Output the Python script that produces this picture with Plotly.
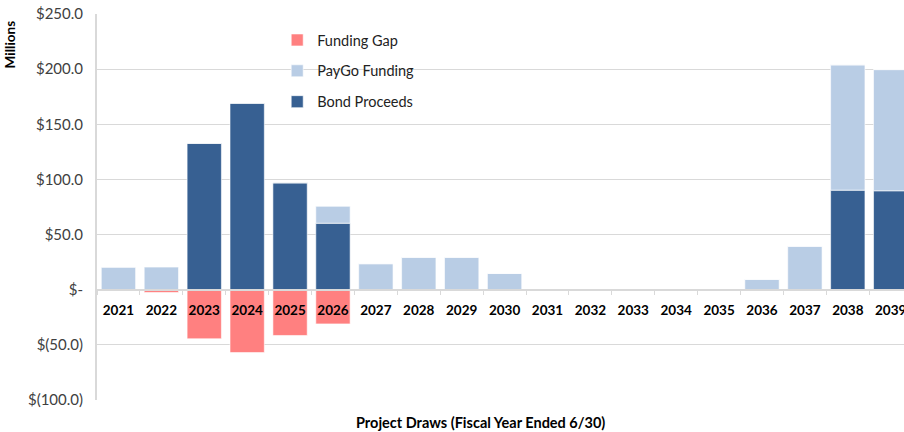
import plotly.graph_objects as go

years = [str(y) for y in range(2021, 2040)]
bond_proceeds = [0, 0, 132.7, 169.1, 96.9, 60.3, 0, 0, 0, 0, 0, 0, 0, 0, 0, 0, 0, 90.3, 89.7]
paygo_funding = [20.5, 20.5, 0, 0, 0, 15.3, 23.6, 29.4, 29.4, 14.8, 0, 0, 0, 0, 0, 9.4, 39.4, 113.6, 109.9]
funding_gap = [0, -2.5, -44.5, -57.0, -41.5, -31.0, 0, 0, 0, 0, 0, 0, 0, 0, 0, 0, 0, 0, 0]

y_ticks = [250, 200, 150, 100, 50, 0, -50, -100]
y_labels = ['$250.0', '$200.0', '$150.0', '$100.0', '$50.0', '$-', '$(50.0)', '$(100.0)']

colors = {'bond': '#376092', 'paygo': '#b9cde5', 'gap': '#ff8080'}
font = 'Lato, Open Sans, sans-serif'

fig = go.Figure()
fig.add_trace(go.Bar(x=years, y=bond_proceeds, name='Bond Proceeds', legendgroup='a', legendrank=3,
                     marker=dict(color=colors['bond'], line=dict(color='white', width=0.6))))
fig.add_trace(go.Bar(x=years, y=paygo_funding, name='PayGo Funding', legendgroup='b', legendrank=2,
                     marker=dict(color=colors['paygo'], line=dict(color='white', width=0.6))))
fig.add_trace(go.Bar(x=years, y=funding_gap, name='Funding Gap', legendgroup='c', legendrank=1,
                     marker=dict(color=colors['gap'], line=dict(color='white', width=0.6))))

ymin, ymax = -100, 250
fig.update_layout(
    width=904, height=432,
    barmode='relative', bargap=0.2,
    plot_bgcolor='white', paper_bgcolor='white',
    margin=dict(l=97, r=0, t=14, b=32, autoexpand=False),
    font=dict(family=font, size=13, color='#404040'),
    showlegend=True,
    legend=dict(x=0.2233, y=0.974, xanchor='left', yanchor='top', traceorder='grouped',
                tracegroupgap=9, bgcolor='rgba(0,0,0,0)', font=dict(size=14.5, color='#222222'),
                itemwidth=30),
    # original chart is cropped on the right, through the last bar
    xaxis=dict(type='category', range=[-0.5, 18.31], anchor='free',
               position=(0 - ymin) / (ymax - ymin),
               showline=True, linecolor='#d9d9d9', linewidth=2,
               ticks='outside', tickson='boundaries', ticklen=4, tickcolor='#d9d9d9',
               tickfont=dict(family=font, size=13.5, color='black', weight='bold'),
               ticklabelstandoff=8, ticklabeloverflow='allow', showgrid=False),
    yaxis=dict(range=[ymin, ymax], tickvals=y_ticks, ticktext=y_labels,
               showgrid=True, gridcolor='#d9d9d9', gridwidth=1,
               showline=True, linecolor='#d9d9d9', linewidth=2,
               zeroline=False, ticks='', ticklabelstandoff=9, ticklabeloverflow='allow',
               tickfont=dict(family=font, size=15, color='#404040')),
    shapes=[
        # white box behind the legend, breaking the gridline like the original
        dict(type='rect', xref='paper', yref='paper', x0=0.248, x1=0.398, y0=0.74, y1=0.96,
             fillcolor='white', line=dict(width=0), layer='between'),
    ],
    annotations=[
        dict(text='<b>Millions</b>', x=-0.1084, xref='paper', xanchor='center',
             y=0.92, yref='paper', yanchor='middle',
             textangle=-90, showarrow=False, font=dict(size=13.5, color='black')),
        dict(text='<b>Project Draws (Fiscal Year Ended 6/30)</b>', x=0.475, xref='paper',
             xanchor='center', y=-0.057, yref='paper', yanchor='middle', showarrow=False,
             font=dict(size=14.5, color='black')),
    ],
)

# drop the default 8px body margin so the figure sits at the page corner
fig.write_html("out.html", config={'displayModeBar': False},
               post_script="document.body.style.margin='0';")
